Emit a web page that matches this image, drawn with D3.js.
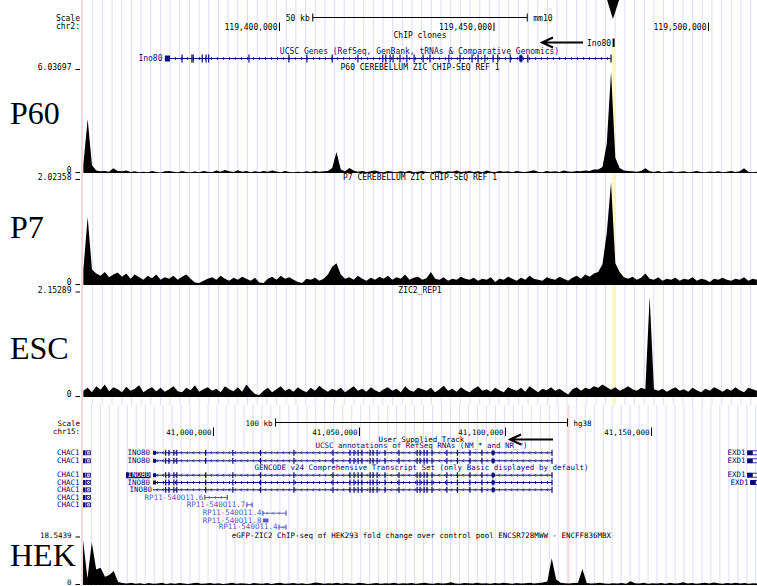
<!DOCTYPE html>
<html>
<head>
<meta charset="utf-8">
<script src="https://cdn.jsdelivr.net/npm/d3@7"></script>
<style>
  body { margin: 0; background: #fff; }
  svg { display: block; }
  text { font-family: "DejaVu Sans Mono", monospace; }
</style>
</head>
<body>
<script>
// ---------- DATA ----------
// chr2 (mm10) window, kb
let chr2Ticks = [119400, 119450, 119500];
// chr15 (hg38) window, kb
let chr15Ticks = [41000, 41050, 41100, 41150];

let trackLabels = ['P60', 'P7', 'ESC', 'HEK'];
let trackTitles = [
	'P60 CEREBELLUM ZIC CHIP-SEQ REF 1',
	'P7 CEREBELLUM ZIC CHIP-SEQ REF 1',
	'ZIC2_REP1',
	'eGFP-ZIC2 ChIP-seq of HEK293 fold change over control pool ENCSR728MWW - ENCFF836MBX'
];
let trackMaxima = [6.03697, 2.02358, 2.15289, 18.5439];

// signal bins: chr2 tracks start at 119354.4 kb, 1 kb per bin
let chr2BinStart = 119354.4, chr2BinStep = 1;
let p60Signal = [
	0.5, 3.17, 0.45, 0.15, 0.1, 0.12, 0.08, 0.28, 0.12, 0.1,
	0.14, 0.06, 0.1, 0.04, 0.08, 0.05, 0.12, 0.06, 0.03, 0.1,
	0.12, 0.08, 0.05, 0.11, 0.06, 0.04, 0.09, 0.05, 0.12, 0.07,
	0.04, 0.14, 0.08, 0.18, 0.1, 0.06, 0.16, 0.08, 0.12, 0.05,
	0.1, 0.06, 0.12, 0.07, 0.14, 0.09, 0.05, 0.11, 0.06, 0.04,
	0.08, 0.05, 0.1, 0.06, 0.12, 0.08, 0.1, 0.12, 0.3, 1.23,
	0.2, 0.1, 0.3, 0.14, 0.08, 0.12, 0.06, 0.1, 0.15, 0.08,
	0.05, 0.12, 0.07, 0.04, 0.1, 0.06, 0.13, 0.05, 0.08, 0.11,
	0.06, 0.04, 0.09, 0.12, 0.05, 0.1, 0.07, 0.15, 0.06, 0.09,
	0.12, 0.06, 0.1, 0.05, 0.14, 0.08, 0.06, 0.11, 0.07, 0.1,
	0.05, 0.12, 0.08, 0.06, 0.1, 0.16, 0.07, 0.05, 0.12, 0.08,
	0.1, 0.06, 0.14, 0.09, 0.07, 0.12, 0.1, 0.15, 0.12, 0.2,
	0.2, 0.35, 1.7, 5.95, 0.9, 0.3, 0.15, 0.12, 0.1, 0.08,
	0.12, 0.28, 0.1, 0.06, 0.12, 0.05, 0.08, 0.1, 0.04, 0.07,
	0.1, 0.05, 0.08, 0.12, 0.06, 0.04, 0.09, 0.06, 0.1, 0.05,
	0.08, 0.12, 0.06, 0.1, 0.28, 0.08, 0.05, 0.07
];
let p7Signal = [
	0.3, 1.31, 0.3, 0.22, 0.18, 0.25, 0.15, 0.2, 0.24, 0.16,
	0.22, 0.12, 0.2, 0.15, 0.1, 0.18, 0.13, 0.2, 0.1, 0.15,
	0.12, 0.18, 0.1, 0.16, 0.2, 0.12, 0.05, 0.04, 0.08, 0.12,
	0.15, 0.1, 0.18, 0.12, 0.08, 0.14, 0.1, 0.16, 0.12, 0.08,
	0.14, 0.05, 0.04, 0.12, 0.16, 0.1, 0.18, 0.12, 0.15, 0.1,
	0.06, 0.04, 0.12, 0.1, 0.14, 0.08, 0.12, 0.2, 0.35, 0.42,
	0.2, 0.12, 0.15, 0.1, 0.18, 0.12, 0.08, 0.14, 0.1, 0.16,
	0.12, 0.18, 0.1, 0.15, 0.12, 0.2, 0.1, 0.14, 0.16, 0.1,
	0.13, 0.25, 0.12, 0.1, 0.15, 0.08, 0.12, 0.1, 0.16, 0.12,
	0.1, 0.14, 0.08, 0.12, 0.1, 0.15, 0.06, 0.12, 0.1, 0.16,
	0.12, 0.08, 0.14, 0.1, 0.18, 0.12, 0.1, 0.08, 0.15, 0.12,
	0.1, 0.16, 0.12, 0.08, 0.14, 0.18, 0.12, 0.2, 0.16, 0.22,
	0.25, 0.4, 1.0, 1.98, 0.42, 0.25, 0.15, 0.12, 0.16, 0.1,
	0.14, 0.22, 0.12, 0.1, 0.15, 0.08, 0.12, 0.1, 0.14, 0.08,
	0.12, 0.1, 0.15, 0.08, 0.12, 0.1, 0.06, 0.12, 0.1, 0.14,
	0.1, 0.08, 0.12, 0.1, 0.15, 0.08, 0.12, 0.1
];
let escSignal = [
	0.13, 0.19, 0.1, 0.22, 0.15, 0.26, 0.12, 0.2, 0.16, 0.1,
	0.21, 0.13, 0.17, 0.24, 0.1, 0.16, 0.2, 0.12, 0.19, 0.11,
	0.16, 0.22, 0.12, 0.1, 0.19, 0.14, 0.24, 0.11, 0.16, 0.2,
	0.13, 0.17, 0.1, 0.22, 0.16, 0.12, 0.2, 0.11, 0.26, 0.15,
	0.06, 0.04, 0.13, 0.19, 0.1, 0.16, 0.22, 0.13, 0.17, 0.11,
	0.2, 0.14, 0.1, 0.19, 0.13, 0.23, 0.16, 0.11, 0.17, 0.13,
	0.19, 0.1, 0.16, 0.22, 0.13, 0.17, 0.11, 0.2, 0.14, 0.1,
	0.16, 0.2, 0.13, 0.17, 0.1, 0.22, 0.14, 0.11, 0.19, 0.16,
	0.13, 0.19, 0.1, 0.16, 0.23, 0.13, 0.17, 0.11, 0.2, 0.14,
	0.1, 0.17, 0.22, 0.13, 0.16, 0.11, 0.19, 0.14, 0.1, 0.2,
	0.16, 0.13, 0.19, 0.11, 0.22, 0.16, 0.1, 0.17, 0.14, 0.2,
	0.13, 0.17, 0.11, 0.05, 0.16, 0.2, 0.13, 0.19, 0.16, 0.22,
	0.19, 0.26, 0.2, 0.15, 0.2, 0.13, 0.17, 0.22, 0.16, 0.13,
	0.19, 0.16, 2.07, 0.16, 0.13, 0.17, 0.11, 0.16, 0.2, 0.13,
	0.16, 0.11, 0.19, 0.14, 0.1, 0.17, 0.13, 0.2, 0.16, 0.11,
	0.17, 0.13, 0.2, 0.14, 0.1, 0.19, 0.16, 0.13
];
// chr15 track starts at 40955.5 kb, 1.5 kb per bin
let chr15BinStart = 40955.5, chr15BinStep = 1.5;
let hekSignal = [
	17.6, 2.5, 16.6, 6.1, 6.7, 3.2, 3.9, 5.5, 1.2, 0.8,
	0.6, 0.9, 0.5, 0.7, 0.4, 0.8, 0.5, 0.6, 0.9, 0.4,
	0.7, 0.5, 0.8, 0.6, 0.4, 0.7, 0.9, 0.5, 0.6, 0.8,
	0.5, 0.7, 0.4, 0.6, 0.9, 0.5, 0.7, 0.6, 0.4, 0.8,
	0.6, 0.5, 0.8, 0.4, 0.7, 0.9, 0.5, 0.6, 0.8, 0.5,
	0.7, 0.4, 0.6, 1.0, 0.8, 0.5, 0.7, 0.6, 0.9, 0.5,
	0.8, 0.6, 0.5, 0.9, 0.7, 0.4, 0.6, 0.8, 0.5, 0.7,
	0.6, 0.9, 0.5, 0.7, 0.6, 0.8, 0.5, 0.7, 0.9, 0.6,
	0.5, 0.8, 0.6, 0.7, 1.1, 0.6, 0.5, 0.8, 0.7, 0.6,
	0.9, 0.6, 0.7, 0.5, 0.8, 0.6, 0.9, 0.7, 0.5, 0.8,
	0.6, 0.7, 0.9, 0.6, 0.8, 1.0, 1.4, 10.4, 2.2, 0.9,
	0.7, 0.6, 0.8, 0.9, 6.2, 0.8, 0.6, 0.7, 0.9, 0.6,
	0.5, 0.7, 0.6, 0.8, 0.5, 1.5, 0.7, 0.6, 0.9, 0.5,
	0.7, 0.6, 0.8, 0.5, 0.9, 0.6, 0.7, 1.1, 0.6, 0.8,
	0.5, 0.7, 0.9, 0.6, 1.0, 0.7, 0.5, 0.8, 0.6, 0.9,
	0.6, 0.8, 0.5, 0.7, 0.6
];

// gene models (kb)
let ino80Mm = { start: 119373.4, end: 119477.4 };
let ino80MmThick = [[119373.4, 119374.6], [119456.0, 119456.8]];
let ino80MmExons = [119377.4, 119379.7, 119380.0, 119382.1, 119383.0, 119383.6, 119393.0,
	119402.3, 119406.5, 119412.4, 119418.4, 119424.2, 119424.9, 119425.9, 119426.6, 119428.2,
	119429.8, 119431.5, 119433.6, 119435.2, 119439.6, 119442.2, 119445.0, 119446.4, 119448.0,
	119449.9, 119451.0, 119453.9, 119456.4, 119458.0, 119477.4];
let chipCloneMm = 119478.0;
let highlightMm = [119477.6, 119478.5];

let ino80Hs = { start: 40979.45, end: 41116.1 };
let ino80HsThick = [[40979.45, 40980.5], [41095.4, 41096.5]];
let ino80HsExons = [40983.8, 40984.9, 40986.6, 40987.6, 40997.5, 41006.8, 41016.3, 41027.7,
	41041.1, 41046.9, 41048.3, 41049.7, 41051.0, 41053.8, 41054.8, 41056.2, 41058.9, 41063.7,
	41069.9, 41070.9, 41072.3, 41073.3, 41075.0, 41080.1, 41083.7, 41088.0, 41092.1, 41095.9, 41116.1];
let highlightHs = 41121.9;
let chac1Hs = [40955.5, 40958.2];
let exd1Hs = [41182.9, 41184.6];
let rp11Names = ['RP11-540O11.6', 'RP11-540O11.7', 'RP11-540O11.4', 'RP11-540O11.8', 'RP11-540O11.4'];
let rp11Spans = [[40997.2, 41004.9], [41011.6, 41013.4], [41017.1, 41025.0], [41017.1, 41019.0], [41022.6, 41025.0]];

// ---------- SETUP ----------
const W = 757, H = 586;
const blue = '#0c0c78', lightBlue = '#5a5abe', gridColor = '#dcdcf8';

let svg = d3.select('body').append('svg')
		.attr('width', W)
		.attr('height', H);

let xUp = d3.scaleLinear().domain([119400, 119500]).range([279, 708]);
let xLo = d3.scaleLinear().domain([41000, 41150]).range([213, 651]);

let defs = svg.append('defs');
defs.append('clipPath').attr('id', 'clipUp')
	.append('rect').attr('x', 83).attr('y', 0).attr('width', W - 83).attr('height', 405);
defs.append('clipPath').attr('id', 'clipLo')
	.append('rect').attr('x', 83).attr('y', 405).attr('width', W - 83).attr('height', H - 405);

/////// GRID ///////////////////////////////////////

svg.append('g').selectAll('line')
	.data(d3.range(92.7, W, 9.676)).enter().append('line')
		.attr('x1', d => d).attr('x2', d => d)
		.attr('y1', 0).attr('y2', 405)
		.attr('stroke', gridColor);
svg.append('g').selectAll('line')
	.data(d3.range(91.3, W, 8.98)).enter().append('line')
		.attr('x1', d => d).attr('x2', d => d)
		.attr('y1', 405).attr('y2', H)
		.attr('stroke', gridColor);

// highlights
svg.append('rect')
	.attr('x', xUp(highlightMm[0])).attr('y', 38)
	.attr('width', xUp(highlightMm[1]) - xUp(highlightMm[0])).attr('height', 367)
	.attr('fill', '#fff8c4');
svg.append('line')
	.attr('x1', xLo(highlightHs)).attr('x2', xLo(highlightHs))
	.attr('y1', 405).attr('y2', H)
	.attr('stroke', '#f5c4c4');

// left border
svg.append('line')
	.attr('x1', 82).attr('x2', 82).attr('y1', 0).attr('y2', H)
	.attr('stroke', '#f0b4b4');

/////// HELPERS ///////////////////////////////////////

let label = function(x, y, str, opts = {}) {
	return svg.append('text')
		.attr('x', x).attr('y', y)
		.attr('text-anchor', opts.anchor || 'start')
		.attr('font-size', opts.size || 8)
		.attr('fill', opts.fill || '#000')
		.text(str);
};

let ruler = function(x, ticks, top, center, barText, db, chrom, size) {
	label(80, top + 3, 'Scale', { anchor: 'end', size: size });
	label(80, top + 11.5, chrom, { anchor: 'end', size: size });
	let half = x(ticks[1]) - x(ticks[0]);
	if (barText === '50 kb') half = half / 2;
	let x0 = center - half, x1 = center + half;
	svg.append('path')
		.attr('d', `M${x0},${top - 4}V${top + 4}M${x0},${top}H${x1}M${x1},${top - 4}V${top + 4}`)
		.attr('stroke', '#000').attr('fill', 'none');
	label(x0 - 3, top + 3, barText, { anchor: 'end', size: size });
	label(x1 + 6, top + 3, db, { size: size });
	ticks.forEach(t => {
		svg.append('line')
			.attr('x1', x(t) + 0.5).attr('x2', x(t) + 0.5)
			.attr('y1', top + 5).attr('y2', top + 13.5)
			.attr('stroke', '#000');
		label(x(t) - 1.5, top + 12, d3.format(',')(Math.round(t * 1000)), { anchor: 'end', size: size });
	});
};

let arrow = function(xTip, xTail, y) {
	svg.append('path')
		.attr('d', `M${xTail},${y}H${xTip + 1}M${xTip + 11},${y - 5}L${xTip},${y}L${xTip + 11},${y + 5}`)
		.attr('stroke', '#000').attr('stroke-width', 2).attr('fill', 'none');
};

let drawGene = function(x, y, start, end, exons, thick, color, exonH) {
	let g = svg.append('g');
	let xa = x(start), xb = x(end);
	g.append('line')
		.attr('x1', xa).attr('x2', xb).attr('y1', y + 0.5).attr('y2', y + 0.5)
		.attr('stroke', color);
	let chev = d3.range(xa + 4, xb - 2, 6);
	g.selectAll('path.chev').data(chev).enter().append('path')
		.attr('d', d => `M${d + 1},${y - 1}L${d - 0.5},${y + 0.5}L${d + 1},${y + 2}`)
		.attr('stroke', color).attr('stroke-width', 0.8).attr('fill', 'none');
	g.selectAll('rect.exon').data(exons).enter().append('rect')
		.attr('x', d => x(d) - 0.6).attr('y', y + 0.5 - exonH / 2)
		.attr('width', 1.2).attr('height', exonH)
		.attr('fill', color);
	g.selectAll('rect.thick').data(thick).enter().append('rect')
		.attr('x', d => x(d[0])).attr('y', y + 0.5 - (exonH - 2) / 2)
		.attr('width', d => Math.max(1.5, x(d[1]) - x(d[0]))).attr('height', exonH - 2)
		.attr('fill', color);
};

let drawSignal = function(values, start, step, x, top, base, max, clipId) {
	let y = d3.scaleLinear().domain([0, max]).range([base, top]);
	let area = d3.area()
		.x((d, i) => x(start + i * step))
		.y0(base)
		.y1(d => y(d))
		.curve(d3.curveLinear);
	svg.append('path')
		.datum(values)
		.attr('clip-path', `url(#${clipId})`)
		.attr('d', area)
		.attr('fill', '#000');
	return y;
};

let bigLabelY = [123.5, 237.5, 358.5, 565.5];

let trackFrame = function(i, top, base, center, size) {
	label(71.5, top, String(trackMaxima[i]), { anchor: 'end', size: size });
	label(71.5, base - 0.5, '0', { anchor: 'end', size: size });
	svg.append('path')
		.attr('d', `M75.5,${top - 0.5}H80M75.5,${base - 0.5}H80`)
		.attr('stroke', '#000');
	label(center, top, trackTitles[i], { anchor: 'middle', size: size });
	svg.append('text')
		.attr('x', 10).attr('y', bigLabelY[i])
		.style('font-family', '"Liberation Serif", "Times New Roman", serif')
		.style('font-size', '32px')
		.text(trackLabels[i]);
};

/////// UPPER PANEL (mm10) ///////////////////////////////////////

ruler(xUp, chr2Ticks, 17.5, 420, '50 kb', 'mm10', 'chr2:', 8);

// ChIP clones
label(420, 38, 'ChIP clones', { anchor: 'middle' });
label(587, 45.5, 'Ino80');
svg.append('rect')
	.attr('x', xUp(chipCloneMm) - 1).attr('y', 38.5)
	.attr('width', 2).attr('height', 8.5)
	.attr('fill', '#000');
arrow(542, 583, 42.5);

// black marker at the top
svg.append('path')
	.attr('d', `M${xUp(chipCloneMm) - 6.5},0H${xUp(chipCloneMm) + 5.5}L${xUp(chipCloneMm) - 0.7},19Z`)
	.attr('fill', '#000');

label(419.5, 53.5, 'UCSC Genes (RefSeq, GenBank, tRNAs & Comparative Genomics)', { anchor: 'middle', fill: blue });
label(162.5, 61, 'Ino80', { anchor: 'end', fill: blue });
drawGene(xUp, 58, ino80Mm.start, ino80Mm.end, ino80MmExons, ino80MmThick, blue, 8);

// signal tracks
let upperSignals = [p60Signal, p7Signal, escSignal];
let upperTops = [70, 180, 292.5];
let upperBases = [173, 285, 397];
upperSignals.forEach((s, i) => {
	drawSignal(s, chr2BinStart, chr2BinStep, xUp, upperTops[i], upperBases[i], trackMaxima[i], 'clipUp');
	trackFrame(i, upperTops[i], upperBases[i], 420, 8);
});

/////// LOWER PANEL (hg38) ///////////////////////////////////////

const fs = 7.5;
ruler(xLo, chr15Ticks, 422.5, 421.5, '100 kb', 'hg38', 'chr15:', fs);

label(421.5, 441.5, 'User Supplied Track', { anchor: 'middle', size: fs });
arrow(510, 553, 439.5);
label(421.5, 448, 'UCSC annotations of RefSeq RNAs (NM_* and NR_*)', { anchor: 'middle', size: fs, fill: blue });
label(421.5, 470.4, 'GENCODE v24 Comprehensive Transcript Set (only Basic displayed by default)', { anchor: 'middle', size: fs, fill: blue });

// CHAC1 rows
let chac1Rows = [452.3, 460.3, 474.7, 482, 489.3, 497, 504.3];
chac1Rows.forEach(y => {
	label(79.5, y + 2.7, 'CHAC1', { anchor: 'end', size: fs, fill: blue });
	let a = xLo(chac1Hs[0]), b = xLo(chac1Hs[1]);
	svg.append('rect').attr('x', a).attr('y', y - 2).attr('width', 2.5).attr('height', 5).attr('fill', blue);
	svg.append('rect').attr('x', a + 3.5).attr('y', y - 1.5).attr('width', b - a - 4).attr('height', 4)
		.attr('fill', 'none').attr('stroke', blue).attr('stroke-width', 0.8);
	svg.append('path').attr('d', `M${a + 4},${y - 1}L${b - 1},${y + 2}M${a + 4},${y + 2}L${b - 1},${y - 1}`)
		.attr('stroke', blue).attr('stroke-width', 0.6);
});

// INO80 rows
let ino80Rows = [452.3, 460.3, 474.7, 482, 489.3];
ino80Rows.forEach((y, i) => {
	if (i === 2) {
		svg.append('rect').attr('x', 126).attr('y', y - 2.5).attr('width', 24.5).attr('height', 6).attr('fill', blue);
		label(150, y + 2.7, 'INO80', { anchor: 'end', size: fs, fill: '#fff' });
	} else {
		label(i === 4 ? 152 : 150, y + 2.7, 'INO80', { anchor: 'end', size: fs, fill: blue });
	}
	drawGene(xLo, y, ino80Hs.start, ino80Hs.end, ino80HsExons, i === 4 ? [ino80HsThick[1]] : ino80HsThick, blue, 6);
});

// EXD1 rows
let exd1Rows = [452.3, 460.3, 474.7, 482];
exd1Rows.forEach((y, i) => {
	let shift = i === 3 ? 3 : 0;
	label(xLo(exd1Hs[0]) - 1.5 + shift, y + 2.7, 'EXD1', { anchor: 'end', size: fs, fill: blue });
	svg.append('rect').attr('x', xLo(exd1Hs[0]) + shift).attr('y', y - 2)
		.attr('width', xLo(exd1Hs[1]) - xLo(exd1Hs[0])).attr('height', 5).attr('fill', blue);
	svg.append('rect').attr('x', xLo(exd1Hs[1]) + 0.5 + shift).attr('y', y - 1.5)
		.attr('width', 5).attr('height', 4)
		.attr('fill', 'none').attr('stroke', blue).attr('stroke-width', 0.8);
});

// RP11 rows
let rp11Rows = [497, 504.3, 512.7, 520, 526.7];
rp11Rows.forEach((y, i) => {
	let a = xLo(rp11Spans[i][0]), b = xLo(rp11Spans[i][1]);
	label(a - 1.5, y + 2.7, rp11Names[i], { anchor: 'end', size: fs, fill: lightBlue });
	if (i === 3) {
		svg.append('rect').attr('x', a).attr('y', y - 1.5).attr('width', b - a).attr('height', 4).attr('fill', lightBlue);
	} else {
		drawGene(xLo, y, rp11Spans[i][0], rp11Spans[i][1], [rp11Spans[i][0], rp11Spans[i][1]], [], lightBlue, 5);
	}
});

// HEK signal
drawSignal(hekSignal, chr15BinStart, chr15BinStep, xLo, 537.5, 585, trackMaxima[3], 'clipLo');
trackFrame(3, 537.5, 585, 421.5, fs);
</script>
</body>
</html>
